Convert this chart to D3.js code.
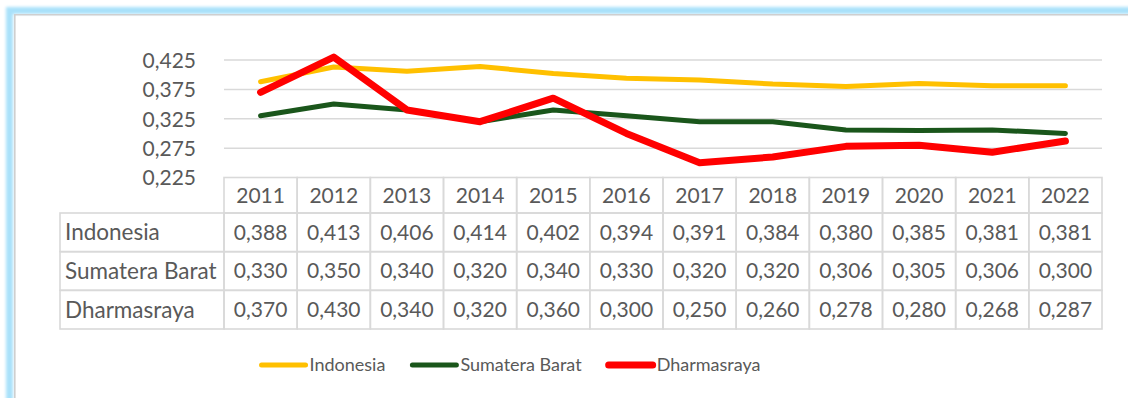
<!DOCTYPE html>
<html>
<head>
<meta charset="utf-8">
<script src="https://cdn.jsdelivr.net/npm/d3@7"></script>
<style>
  html, body { margin: 0; padding: 0; background: #ffffff; }
  svg { display: block; }
  text { font-family: Lato, "Open Sans", sans-serif; fill: #595959; }
</style>
</head>
<body>
<svg id="chart" width="1128" height="398"></svg>
<script>
// Years along the category axis
const years = ["2011","2012","2013","2014","2015","2016","2017","2018","2019","2020","2021","2022"];

// Series values
const indonesia     = [0.388, 0.413, 0.406, 0.414, 0.402, 0.394, 0.391, 0.384, 0.380, 0.385, 0.381, 0.381];
const sumateraBarat = [0.330, 0.350, 0.340, 0.320, 0.340, 0.330, 0.320, 0.320, 0.306, 0.305, 0.306, 0.300];
const dharmasraya   = [0.370, 0.430, 0.340, 0.320, 0.360, 0.300, 0.250, 0.260, 0.278, 0.280, 0.268, 0.287];

// Value axis ticks
const yTicks = [0.225, 0.275, 0.325, 0.375, 0.425];

const seriesNames  = ["Indonesia", "Sumatera Barat", "Dharmasraya"];
const seriesValues = [indonesia, sumateraBarat, dharmasraya];
const seriesColors = ["#FFC000", "#1A561B", "#FF0000"];
const seriesWidths = [5, 5, 7];

const series = seriesNames.map((name, i) => ({
  name, values: seriesValues[i], color: seriesColors[i], width: seriesWidths[i]
}));

const fmt = v => d3.format(".3f")(v).replace(".", ",");

const svg = d3.select("#chart");
const NUM_FONT = 21;     // numbers: axis labels, years, table values
const LABEL_FONT = 22.5; // row labels in the table
const LEGEND_FONT = 18;
const gridColor = "#D9D9D9";

// Frame around the chart area
const defs = svg.append("defs");
defs.append("filter").attr("id", "soft")
  .attr("x", "-5%").attr("y", "-5%").attr("width", "110%").attr("height", "110%")
  .append("feGaussianBlur").attr("stdDeviation", 1.4);

svg.append("rect")
  .attr("x", 9.5).attr("y", 10.5).attr("width", 1200).attr("height", 600)
  .attr("fill", "none").attr("stroke", "#A9E1FA").attr("stroke-width", 7)
  .attr("filter", "url(#soft)");
svg.append("path")
  .attr("d", "M14.8,1200 V14.8 H1200")
  .attr("fill", "none").attr("stroke", "#CFCFCF").attr("stroke-width", 1.6);

// Scales
const x = d3.scaleBand().domain(years).range([224, 1102]);
const y = d3.scaleLinear().domain([0.225, 0.425]).range([177.5, 60]);

// Horizontal gridlines
svg.append("g")
  .selectAll("line")
  .data(yTicks.slice(1))
  .join("line")
  .attr("x1", x.range()[0]).attr("x2", x.range()[1])
  .attr("y1", d => y(d)).attr("y2", d => y(d))
  .attr("stroke", gridColor).attr("stroke-width", 1.5);

// Value axis labels
const yAxis = d3.axisLeft(y).tickValues(yTicks).tickFormat(fmt).tickSize(0).tickPadding(0);
const yAxisG = svg.append("g").attr("transform", "translate(196,0)").call(yAxis);
yAxisG.select(".domain").remove();
yAxisG.selectAll("text")
  .attr("font-size", NUM_FONT).attr("font-family", null).attr("fill", "#595959")
  .attr("dy", "0.35em");

// Series lines
const line = d3.line()
  .x((d, i) => x(years[i]) + x.bandwidth() / 2)
  .y(d => y(d));

svg.append("g")
  .selectAll("path")
  .data(series)
  .join("path")
  .attr("d", d => line(d.values))
  .attr("fill", "none")
  .attr("stroke", d => d.color)
  .attr("stroke-width", d => d.width)
  .attr("stroke-linejoin", "round")
  .attr("stroke-linecap", "round");

// Data table below the plot
const headerTop = 177.5, headerBottom = 213;
const rows = d3.scaleBand().domain(seriesNames).range([213, 329]);
const labelLeft = 60;
const table = svg.append("g");

// Header cells
table.selectAll("rect.hdr")
  .data(years)
  .join("rect")
  .attr("class", "hdr")
  .attr("x", d => x(d)).attr("y", headerTop)
  .attr("width", x.bandwidth()).attr("height", headerBottom - headerTop)
  .attr("fill", "none").attr("stroke", gridColor).attr("stroke-width", 1.6);

table.selectAll("text.hdr")
  .data(years)
  .join("text")
  .attr("class", "hdr")
  .attr("x", d => x(d) + x.bandwidth() / 2)
  .attr("y", (headerTop + headerBottom) / 2)
  .attr("dy", "0.35em")
  .attr("text-anchor", "middle")
  .attr("font-size", NUM_FONT)
  .text(d => d);

// Body rows
series.forEach(s => {
  const r = table.append("g");
  const top = rows(s.name), h = rows.bandwidth();
  r.append("rect")
    .attr("x", labelLeft).attr("y", top)
    .attr("width", x.range()[0] - labelLeft).attr("height", h)
    .attr("fill", "none").attr("stroke", gridColor).attr("stroke-width", 1.6);
  r.append("text")
    .attr("x", labelLeft + 5).attr("y", top + h / 2).attr("dy", "0.35em")
    .attr("font-size", LABEL_FONT)
    .text(s.name);
  r.selectAll("rect.cell")
    .data(s.values)
    .join("rect")
    .attr("class", "cell")
    .attr("x", (d, i) => x(years[i])).attr("y", top)
    .attr("width", x.bandwidth()).attr("height", h)
    .attr("fill", "none").attr("stroke", gridColor).attr("stroke-width", 1.6);
  r.selectAll("text.cell")
    .data(s.values)
    .join("text")
    .attr("class", "cell")
    .attr("x", (d, i) => x(years[i]) + x.bandwidth() / 2)
    .attr("y", top + h / 2).attr("dy", "0.35em")
    .attr("text-anchor", "middle")
    .attr("font-size", NUM_FONT)
    .text(d => fmt(d));
});

// Legend, centred under the table
const legend = svg.append("g");
const legendY = 365, swatch = 44, gap = 4, itemGap = 27;
const items = legend.selectAll("g")
  .data(series)
  .join("g");
items.append("line")
  .attr("x1", 0).attr("x2", swatch)
  .attr("y1", 0).attr("y2", 0)
  .attr("stroke", d => d.color)
  .attr("stroke-width", d => d.width)
  .attr("stroke-linecap", "round");
items.append("text")
  .attr("x", swatch + gap).attr("y", 0).attr("dy", "0.35em")
  .attr("font-size", LEGEND_FONT)
  .text(d => d.name);

let cursor = 0;
const widths = [];
items.each(function () {
  const w = swatch + gap + d3.select(this).select("text").node().getComputedTextLength();
  widths.push(w);
});
const total = d3.sum(widths) + itemGap * (widths.length - 1);
const start = 511 - total / 2;
items.attr("transform", (d, i) => {
  const tx = start + cursor;
  cursor += widths[i] + itemGap;
  return `translate(${tx},${legendY})`;
});
</script>
</body>
</html>
